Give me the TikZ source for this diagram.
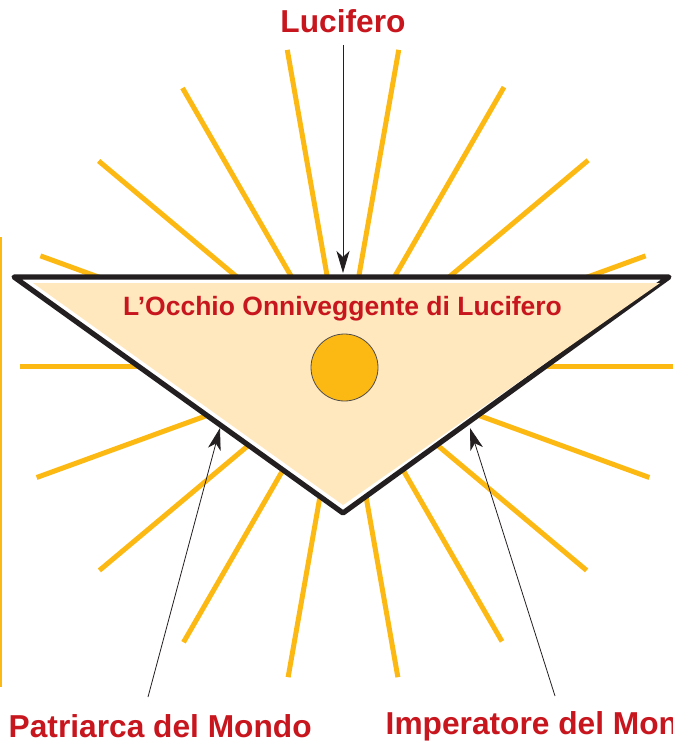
\documentclass[tikz,border=0pt]{standalone}
\usepackage{fontspec}
\setmainfont{Liberation Sans}
\usetikzlibrary{arrows.meta}
\definecolor{lred}{RGB}{200,22,30}
\definecolor{raycol}{RGB}{253,185,19}
\definecolor{pale}{RGB}{255,232,190}
\definecolor{ink}{RGB}{35,31,32}
\begin{document}
\begin{tikzpicture}[x=1pt,y=-1pt,
  raystyle/.style={draw=raycol,line width=5pt},
  lbl/.style={text=lred,font=\bfseries\fontsize{31.7}{36}\selectfont,inner sep=0pt},
  ptr/.style={draw=ink,line width=0.8pt,-{Stealth[length=22pt,width=13pt,inset=6pt]}}]
\useasboundingbox (0,0) rectangle (672,743);
\coordinate (c) at (343,366);
% rays
\foreach \a/\r in {0/340,20/326,40/318,60/318,80/316,100/316,120/319,140/318,160/326,
                   180/323,200/322,220/319,240/321,260/321,280/321,300/322,320/320,340/322}
  \draw[raystyle] (c) ++(\a:60) -- ++(\a:\r-60);
% thin line at left edge
\draw[draw=raycol,line width=1.5pt] (1,237) -- (1,687);
% triangle
\draw[draw=ink,fill=white,line width=5.2pt,line join=round] (14,277) -- (669,277) -- (343,513) -- cycle;
\fill[pale] (33,283) -- (660,283) -- (343,505) -- cycle;
% eye
\node[circle,fill=raycol,draw=ink!80,line width=0.8pt,minimum size=67pt,inner sep=0pt] (eye) at (344.5,367.5) {};
% labels
\node[lbl,anchor=base] (lucifero) at (343,33) {Lucifero};
\node[lbl,font=\bfseries\fontsize{26.5}{30}\selectfont,anchor=base] (occhio) at (342.5,315) {L’Occhio Onniveggente di Lucifero};
\node[lbl,anchor=base west] (patriarca) at (8.5,737) {Patriarca del Mondo};
\node[lbl,anchor=base west] (imperatore) at (385.5,734) {Imperatore del Mondo};
% pointers
\coordinate (lucTail) at (343,45);
\coordinate (lucTip) at (343,273);
\coordinate (patTail) at (148,697);
\coordinate (patTip) at (220,428);
\coordinate (impTail) at (555,696);
\coordinate (impTip) at (470,428);
\draw[ptr] (lucTail) -- (lucTip);
\draw[ptr] (patTail) -- (patTip);
\draw[ptr] (impTail) -- (impTip);
\end{tikzpicture}
\end{document}
